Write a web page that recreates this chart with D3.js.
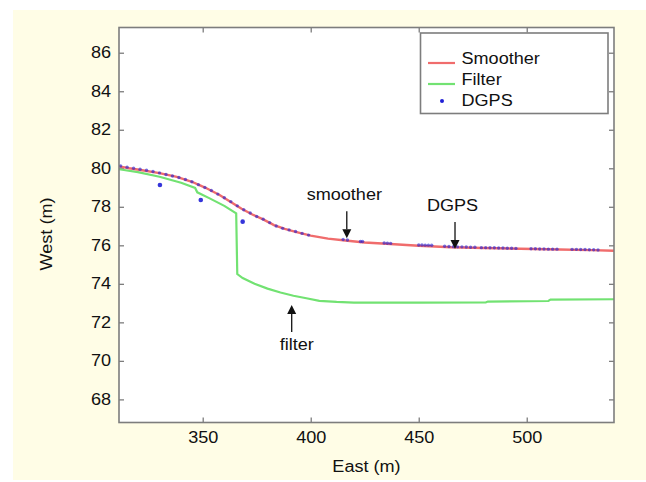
<!DOCTYPE html>
<html><head><meta charset="utf-8">
<script src="https://cdn.jsdelivr.net/npm/d3@7"></script>
<style>
body{margin:0;background:#fff;}
text{font-family:"Liberation Sans",Arial,sans-serif;fill:#111;}
</style>
</head><body>
<svg id="chart" width="646" height="482"></svg>
<script>
// ---- data ----
const smootherX = [311.2,316,322,330,338,345,349,352,358,363,368,373,378,383,388,393,400,408,416,425,435,450,465,480,497,515,530,540.4];
const smootherY = [80.1,80.0,79.9,79.75,79.55,79.3,79.1,78.95,78.6,78.25,77.9,77.6,77.35,77.05,76.85,76.7,76.5,76.35,76.25,76.15,76.08,75.98,75.9,75.86,75.82,75.78,75.75,75.72];

const filterX = [311.2,320,330,340,346.5,347.5,353,360,365.5,366,368.5,374,380,386,392,398,404,412,420,450,481,482,510,511,540.4];
const filterY = [79.95,79.8,79.56,79.25,78.98,78.75,78.45,78.05,77.66,74.51,74.3,74.0,73.75,73.55,73.38,73.25,73.12,73.06,73.02,73.02,73.03,73.08,73.11,73.18,73.2];

const dgpsX = [330.2,349.1,368.5,
  312,315,318,321,324,327,330,333,336,339,342,345,348,351,354,357,360,363,366,369,372,375,378,381,384,387,390,393,396,399,
  415,417,423,424,
  434,435.5,437,
  450,451.5,453,454.5,456,
  462,464,466,468,470,472,474,476,
  479,481,483,485,487,489,491,493,495,
  502,504,506,508,510,512,514,
  521,523,525,527,529,531,533];
const dgpsY = [79.13,78.35,77.23,
  80.12,80.06,80.0,79.95,79.9,79.83,79.76,79.68,79.6,79.52,79.42,79.3,79.15,79.0,78.85,78.66,78.47,78.27,78.05,77.85,77.68,77.5,77.36,77.18,77.0,76.88,76.8,76.72,76.62,76.53,
  76.3,76.28,76.2,76.2,
  76.12,76.11,76.1,
  76.02,76.02,76.01,76.01,76.0,
  75.95,75.94,75.93,75.92,75.92,75.91,75.9,75.9,
  75.88,75.88,75.87,75.87,75.86,75.86,75.85,75.85,75.84,
  75.82,75.82,75.81,75.81,75.8,75.8,75.8,
  75.79,75.79,75.78,75.78,75.77,75.77,75.76];

const xTicks = [350,400,450,500];
const yTicks = [68,70,72,74,76,78,80,82,84,86];
const seriesNames = ["Smoother","Filter","DGPS"];
const annoLabels = ["smoother","DGPS","filter"];
const annoX = [416.7,466.8,391.2];
const annoTipY = [76.37,75.81,72.9];
const annoDir = ["down","down","up"];

// ---- layout ----
const W = 646, H = 482;
const m = {left:119, top:27.5, right:32, bottom:59.5};
const pw = W - m.left - m.right, ph = H - m.top - m.bottom;
const red = "#f06c6c", green = "#72e272", blue = "#1f1fd6", axisCol = "#7d7d7d";
const SX = 1.13;

const svg = d3.select("#chart");
svg.append("rect").attr("x",13).attr("y",10).attr("width",W-13).attr("height",H-12).attr("fill","#fffde6");

const x = d3.scaleLinear().domain([311.25,540.4]).range([0,pw]);
const y = d3.scaleLinear().domain([66.8,87.31]).range([ph,0]);

const g = svg.append("g").attr("transform",`translate(${m.left},${m.top})`);
g.append("rect").attr("width",pw).attr("height",ph).attr("fill","#fff");

function styleAxis(sel){
  sel.select(".domain").remove();
  sel.selectAll(".tick line").attr("stroke",axisCol).attr("stroke-width",1.3);
  sel.selectAll("text").style("font-size","16px").attr("fill","#111");
}
const ax = g.append("g").attr("transform",`translate(0,${ph})`)
  .call(d3.axisBottom(x).tickValues(xTicks).tickSizeInner(-5).tickSizeOuter(0).tickPadding(9));
styleAxis(ax);
ax.selectAll(".tick text").attr("transform",`scale(${SX},1)`);

const ay = g.append("g")
  .call(d3.axisLeft(y).tickValues(yTicks).tickSizeInner(-5).tickSizeOuter(0).tickPadding(8));
styleAxis(ay);
ay.selectAll(".tick text").each(function(){
  const tx = +this.getAttribute("x");
  d3.select(this).attr("x",0).attr("transform",`translate(${tx},0) scale(${SX},1)`);
});

const at = g.append("g").call(d3.axisTop(x).tickValues(xTicks).tickSizeInner(-5).tickSizeOuter(0).tickFormat(""));
styleAxis(at);
const ar = g.append("g").attr("transform",`translate(${pw},0)`)
  .call(d3.axisRight(y).tickValues(yTicks).tickSizeInner(-5).tickSizeOuter(0).tickFormat(""));
styleAxis(ar);

// clip
g.append("clipPath").attr("id","clip").append("rect").attr("width",pw).attr("height",ph);
const plot = g.append("g").attr("clip-path","url(#clip)");

const line = d3.line().x(d=>x(d[0])).y(d=>y(d[1]));
plot.append("path").datum(d3.zip(filterX,filterY)).attr("d",line)
  .attr("fill","none").attr("stroke",green).attr("stroke-width",2.2);
plot.append("path").datum(d3.zip(smootherX,smootherY)).attr("d",line)
  .attr("fill","none").attr("stroke",red).attr("stroke-width",2.4);
plot.selectAll("circle.dgps").data(d3.zip(dgpsX,dgpsY)).join("circle")
  .attr("class","dgps").attr("cx",d=>x(d[0])).attr("cy",d=>y(d[1]))
  .attr("r",(d,i)=> i<3 ? 2.3 : 1.7)
  .attr("fill",blue).attr("fill-opacity",(d,i)=> i<3 ? 0.9 : 0.6);

// frame
g.append("rect").attr("width",pw).attr("height",ph).attr("fill","none")
  .attr("stroke",axisCol).attr("stroke-width",1.6);

// annotations
annoLabels.forEach((lab,i)=>{
  const px = x(annoX[i]), tip = y(annoTipY[i]);
  const down = annoDir[i]==="down";
  const len = 27, hh = 9, hw = 4.5;
  const tail = down ? tip - len : tip + len;
  const base = down ? tip - hh : tip + hh;
  g.append("line").attr("x1",px).attr("x2",px).attr("y1",tail).attr("y2",base)
    .attr("stroke","#111").attr("stroke-width",1.3);
  g.append("path").attr("d",`M${px-hw},${base}L${px+hw},${base}L${px},${tip}Z`).attr("fill","#111");
  const ty = down ? tail - 11 : tail + 18;
  const dx = down ? -2.5 : 5;
  g.append("text").attr("transform",`translate(${px+dx},${ty}) scale(${SX},1)`)
    .attr("text-anchor","middle").style("font-size","16px").text(lab);
});

// legend
const lg = svg.append("g");
lg.append("rect").attr("x",420.5).attr("y",33).attr("width",187.5).attr("height",80.5)
  .attr("fill","#fff").attr("stroke",axisCol).attr("stroke-width",1.6);
const legColors = [red,green,blue];
const legY = [64,85,106];
seriesNames.forEach((s,i)=>{
  if(i<2){
    lg.append("line").attr("x1",428).attr("x2",455).attr("y1",legY[i]-1).attr("y2",legY[i]-1)
      .attr("stroke",legColors[i]).attr("stroke-width",2.2);
  } else {
    lg.append("circle").attr("cx",442).attr("cy",legY[i]-5).attr("r",2).attr("fill",blue);
  }
  lg.append("text").attr("transform",`translate(461.5,${legY[i]}) scale(${SX},1)`)
    .style("font-size","16px").text(s);
});

// axis titles
svg.append("text").attr("transform",`translate(${m.left+pw/2},472) scale(${SX},1)`)
  .attr("text-anchor","middle").style("font-size","16px").text("East (m)");
svg.append("text").attr("transform",`translate(52,234) rotate(-90) scale(${SX},1)`)
  .attr("text-anchor","middle").style("font-size","16px").text("West (m)");
</script>
</body></html>
